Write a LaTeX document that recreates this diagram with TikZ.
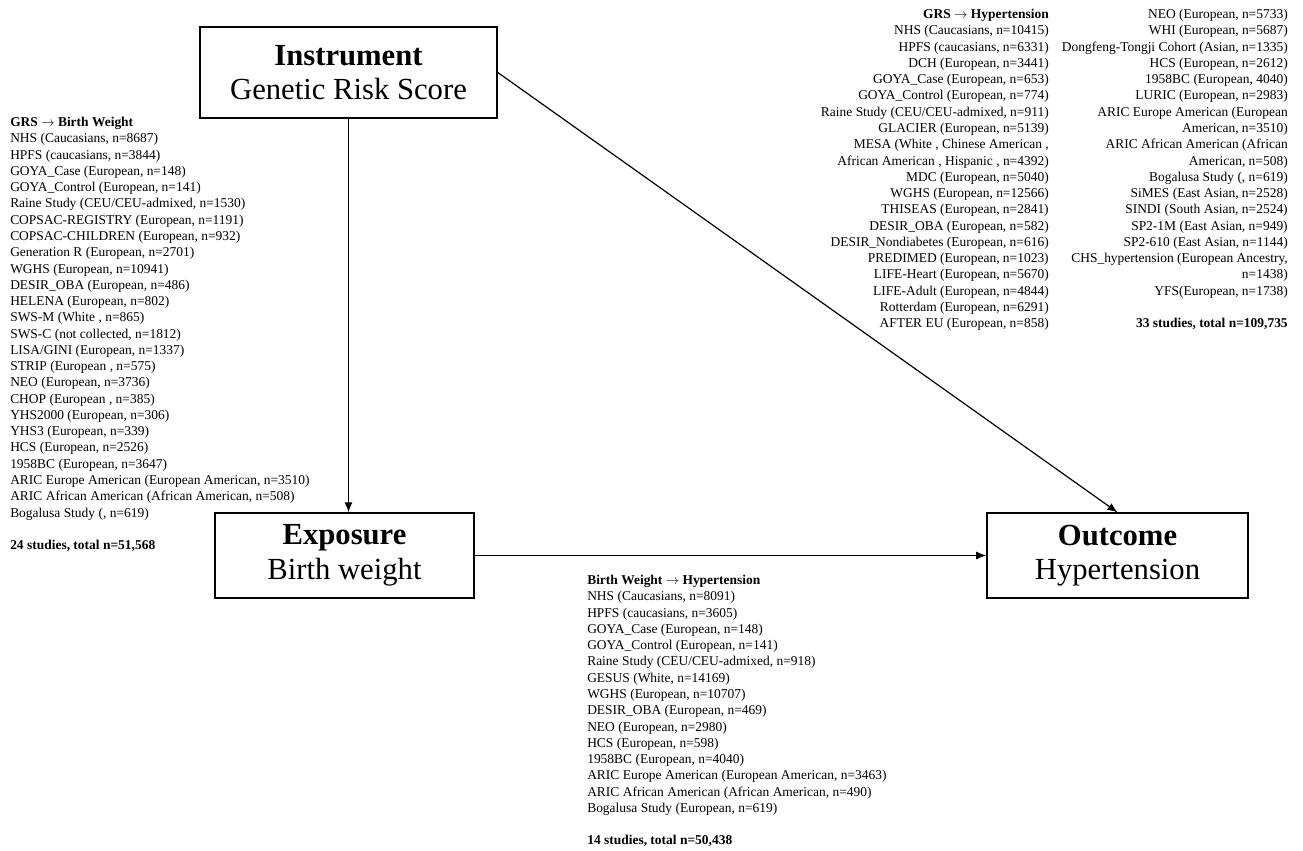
\documentclass[tikz,border=0pt]{standalone}
\usepackage{fontspec}
\setmainfont{Liberation Serif}
\usetikzlibrary{arrows.meta}

\begin{document}
\begin{tikzpicture}[x=0.75pt, y=-0.75pt, >={Latex[length=7.5pt,width=6pt]},
  varbox/.style={draw, rectangle, line width=1.2pt, align=center, inner sep=0pt,
    font=\fontsize{23}{26}\selectfont},
  studylist/.style={inner sep=0pt, font=\fontsize{10.1}{12.2}\selectfont}]
\useasboundingbox (0,0) rectangle (1303,850);

% the three variables
\node[varbox, minimum width=222.75pt, minimum height=68.25pt] (inst) at (348.5,72.5) {\textbf{Instrument}\\Genetic Risk Score};
\node[varbox, minimum width=194.25pt, minimum height=63.5pt] (exp) at (344.5,555.5) {\textbf{Exposure}\\Birth weight};
\node[varbox, minimum width=195.75pt, minimum height=63.5pt] (out) at (1117.5,555.5) {\textbf{Outcome}\\Hypertension};

% paths
\draw[->, line width=0.9pt] (inst.south) -- (inst.south |- exp.north);
\draw[->, line width=0.9pt] (inst.east) -- (out.north);
\draw[->, line width=0.9pt] (exp.east) -- (out.west);

% GRS -> birth weight
\node[studylist, anchor=north west, align=left] (listbw) at (10,117) {\textbf{GRS $\rightarrow$ Birth Weight}\\
NHS (Caucasians, n=8687)\\
HPFS (caucasians, n=3844)\\
GOYA\_Case (European, n=148)\\
GOYA\_Control (European, n=141)\\
Raine Study (CEU/CEU-admixed, n=1530)\\
COPSAC-REGISTRY (European, n=1191)\\
COPSAC-CHILDREN (European, n=932)\\
Generation R (European, n=2701)\\
WGHS (European, n=10941)\\
DESIR\_OBA (European, n=486)\\
HELENA (European, n=802)\\
SWS-M (White , n=865)\\
SWS-C (not collected, n=1812)\\
LISA/GINI (European, n=1337)\\
STRIP (European , n=575)\\
NEO (European, n=3736)\\
CHOP (European , n=385)\\
YHS2000 (European, n=306)\\
YHS3 (European, n=339)\\
HCS (European, n=2526)\\
1958BC (European, n=3647)\\
ARIC Europe American (European American, n=3510)\\
ARIC African American (African American, n=508)\\
Bogalusa Study (, n=619)\\[12.2pt]
\textbf{24 studies, total n=51,568}};

% GRS -> hypertension
\node[studylist, anchor=north east, align=right] (listhta) at (1049,9) {\textbf{GRS $\rightarrow$ Hypertension}\\
NHS (Caucasians, n=10415)\\
HPFS (caucasians, n=6331)\\
DCH (European, n=3441)\\
GOYA\_Case (European, n=653)\\
GOYA\_Control (European, n=774)\\
Raine Study (CEU/CEU-admixed, n=911)\\
GLACIER (European, n=5139)\\
MESA (White , Chinese American ,\\
African American , Hispanic , n=4392)\\
MDC (European, n=5040)\\
WGHS (European, n=12566)\\
THISEAS (European, n=2841)\\
DESIR\_OBA (European, n=582)\\
DESIR\_Nondiabetes (European, n=616)\\
PREDIMED (European, n=1023)\\
LIFE-Heart (European, n=5670)\\
LIFE-Adult (European, n=4844)\\
Rotterdam (European, n=6291)\\
AFTER EU (European, n=858)};
\node[studylist, anchor=north east, align=right] (listhtb) at (1288,9) {NEO (European, n=5733)\\
WHI (European, n=5687)\\
Dongfeng-Tongji Cohort (Asian, n=1335)\\
HCS (European, n=2612)\\
1958BC (European, 4040)\\
LURIC (European, n=2983)\\
ARIC Europe American (European\\
American, n=3510)\\
ARIC African American (African\\
American, n=508)\\
Bogalusa Study (, n=619)\\
SiMES (East Asian, n=2528)\\
SINDI (South Asian, n=2524)\\
SP2-1M (East Asian, n=949)\\
SP2-610 (East Asian, n=1144)\\
CHS\_hypertension (European Ancestry,\\
n=1438)\\
YFS(European, n=1738)\\[12.2pt]
\textbf{33 studies, total n=109,735}};

% birth weight -> hypertension
\node[studylist, anchor=north west, align=left] (listbwht) at (587,575) {\textbf{Birth Weight $\rightarrow$ Hypertension}\\
NHS (Caucasians, n=8091)\\
HPFS (caucasians, n=3605)\\
GOYA\_Case (European, n=148)\\
GOYA\_Control (European, n=141)\\
Raine Study (CEU/CEU-admixed, n=918)\\
GESUS (White, n=14169)\\
WGHS (European, n=10707)\\
DESIR\_OBA (European, n=469)\\
NEO (European, n=2980)\\
HCS (European, n=598)\\
1958BC (European, n=4040)\\
ARIC Europe American (European American, n=3463)\\
ARIC African American (African American, n=490)\\
Bogalusa Study (European, n=619)\\[12.2pt]
\textbf{14 studies, total n=50,438}};
\end{tikzpicture}
\end{document}
